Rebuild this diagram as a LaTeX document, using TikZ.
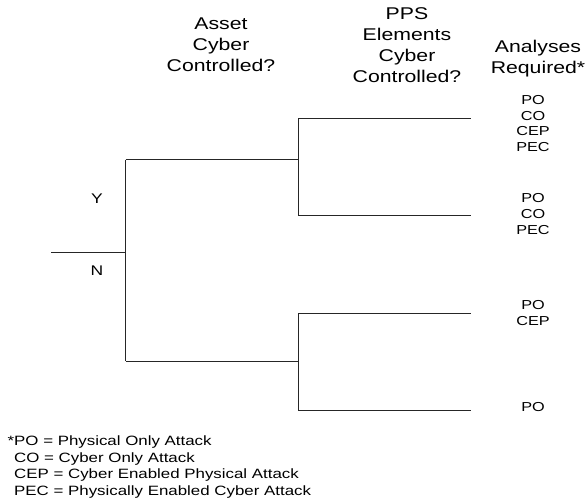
\documentclass[tikz,border=0pt]{standalone}
\usepackage{fontspec}
\setmainfont[FakeStretch=1.25]{Liberation Sans}
\begin{document}
\begin{tikzpicture}[x=1pt,y=-1pt,
  branch/.style={line width=1pt, draw=black!85},
  header/.style={align=center, inner sep=0pt, font=\fontsize{17}{21}\selectfont},
  result/.style={align=center, inner sep=0pt, font=\fontsize{13}{15.7}\selectfont},
  answer/.style={inner sep=0pt, font=\fontsize{14}{16}\selectfont},
  legend/.style={align=left, anchor=west, inner sep=0pt, font=\fontsize{13.5}{16.5}\selectfont}]
  \useasboundingbox (0,0) rectangle (587,500);

  % column headings
  \node[header] (hasset) at (221,44.5) {Asset\\Cyber\\Controlled?};
  \node[header] (hpps) at (407,45) {PPS\\Elements\\Cyber\\Controlled?};
  \node[header] (hanal) at (538,59) {Analyses\\Required*};

  % decision tree junctions and leaves
  \coordinate (root) at (51,252.5);
  \coordinate (split) at (125.5,252.5);
  \coordinate (yes) at (125.5,160);
  \coordinate (no) at (125.5,361);
  \coordinate (yesj) at (298,160);
  \coordinate (noj) at (298,361);
  \coordinate (yy) at (298,119);
  \coordinate (yn) at (298,216);
  \coordinate (ny) at (298,313);
  \coordinate (nn) at (298,410);
  \coordinate (yyend) at (471,119);
  \coordinate (ynend) at (471,216);
  \coordinate (nyend) at (471,313);
  \coordinate (nnend) at (471,410);

  \draw[branch] (root) -- (split);
  \draw[branch] (yes) -- (no);
  \draw[branch] (yes) -- (yesj);
  \draw[branch] (no) -- (noj);
  \draw[branch] (yy) -- (yn);
  \draw[branch] (ny) -- (nn);
  \draw[branch] (yy) -- (yyend);
  \draw[branch] (yn) -- (ynend);
  \draw[branch] (ny) -- (nyend);
  \draw[branch] (nn) -- (nnend);

  % branch labels
  \node[answer] (ylab) at (97,199) {Y};
  \node[answer] (nlab) at (97,271) {N};

  % required analyses per outcome
  \node[result] (r1) at (533,123.5) {PO\\CO\\CEP\\PEC};
  \node[result] (r2) at (533,214) {PO\\CO\\PEC};
  \node[result] (r3) at (533,313) {PO\\CEP};
  \node[result] (r4) at (533,407) {PO};

  % abbreviations
  \node[legend] (key) at (14,467) {\llap{*}PO = Physical Only Attack\\CO = Cyber Only Attack\\CEP = Cyber Enabled Physical Attack\\PEC = Physically Enabled Cyber Attack};
\end{tikzpicture}
\end{document}
